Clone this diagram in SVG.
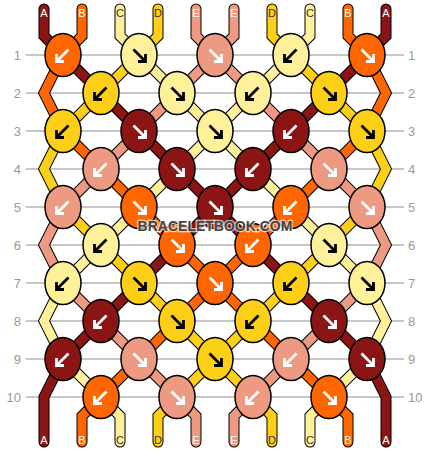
<svg xmlns="http://www.w3.org/2000/svg" xmlns:xlink="http://www.w3.org/1999/xlink" width="430" height="452" viewBox="0 0 430 452">
<style>
.grid line{stroke:#b4b4b4;stroke-width:1.3}
.rl{font-family:"Liberation Sans",Arial,sans-serif;font-size:13px;fill:#999}
.sl{font-family:"Liberation Sans",Arial,sans-serif;font-size:11px;text-anchor:middle}
.lw{fill:#fff}.ld{fill:#333}
.ol{fill:none;stroke:#000;stroke-width:11;stroke-linecap:round;stroke-linejoin:miter}
.fl{fill:none;stroke-width:9;stroke-linecap:round;stroke-linejoin:miter}
.sa{stroke:#8b1515}.sb{stroke:#ff6600}.sc{stroke:#fff09a}.sd{stroke:#fdd017}.se{stroke:#ee9a82}
.k{stroke:#000;stroke-width:1.5}
.ka{fill:#8b1515}.kb{fill:#ff6600}.kc{fill:#fff09a}.kd{fill:#fdd017}.ke{fill:#ee9a82}
.ar{fill:none;stroke-width:2.8;stroke-linecap:butt;stroke-linejoin:miter}
.w{stroke:#fff}.b{stroke:#000}
.wm{font-family:"Liberation Sans",Arial,sans-serif;font-size:14px;font-weight:bold;fill:#444;stroke:#fff;stroke-width:2.5;stroke-opacity:0.7;paint-order:stroke;text-anchor:middle}
</style>
<defs>
<path id="dr" d="M-5.5,-5.5 L5,5 M6.5,-1 V6.5 H-1"/>
<path id="dl" d="M5.5,-5.5 L-5,5 M-6.5,-1 V6.5 H1"/>
<path id="tA1" d="M44,9 L44,36 L63,55 L101,93 L139,131 L177,169 L215,207 L177,245 L139,283 L101,321 L63,359 L44,397 L44,442"/>
<path id="tA2" d="M386,9 L386,36 L367,55 L329,93 L291,131 L253,169 L215,207 L253,245 L291,283 L329,321 L367,359 L386,397 L386,442"/>
<path id="tB1" d="M82,9 L82,36 L63,55 L44,93 L63,131 L101,169 L139,207 L177,245 L215,283 L177,321 L139,359 L101,397 L82,416 L82,442"/>
<path id="tB2" d="M348,9 L348,36 L367,55 L386,93 L367,131 L329,169 L291,207 L253,245 L215,283 L253,321 L291,359 L329,397 L348,416 L348,442"/>
<path id="tC1" d="M120,9 L120,36 L139,55 L177,93 L215,131 L177,169 L139,207 L101,245 L63,283 L44,321 L63,359 L101,397 L120,416 L120,442"/>
<path id="tC2" d="M310,9 L310,36 L291,55 L253,93 L215,131 L253,169 L291,207 L329,245 L367,283 L386,321 L367,359 L329,397 L310,416 L310,442"/>
<path id="tD1" d="M158,9 L158,36 L139,55 L101,93 L63,131 L44,169 L63,207 L101,245 L139,283 L177,321 L215,359 L177,397 L158,416 L158,442"/>
<path id="tD2" d="M272,9 L272,36 L291,55 L329,93 L367,131 L386,169 L367,207 L329,245 L291,283 L253,321 L215,359 L253,397 L272,416 L272,442"/>
<path id="tE1" d="M196,9 L196,36 L215,55 L177,93 L139,131 L101,169 L63,207 L44,245 L63,283 L101,321 L139,359 L177,397 L196,416 L196,442"/>
<path id="tE2" d="M234,9 L234,36 L215,55 L253,93 L291,131 L329,169 L367,207 L386,245 L367,283 L329,321 L291,359 L253,397 L234,416 L234,442"/>
</defs>
<rect width="430" height="452" fill="#fff"/>
<g class="grid">
<line x1="26" y1="55" x2="404" y2="55"/><line x1="26" y1="93" x2="404" y2="93"/>
<line x1="26" y1="131" x2="404" y2="131"/><line x1="26" y1="169" x2="404" y2="169"/>
<line x1="26" y1="207" x2="404" y2="207"/><line x1="26" y1="245" x2="404" y2="245"/>
<line x1="26" y1="283" x2="404" y2="283"/><line x1="26" y1="321" x2="404" y2="321"/>
<line x1="26" y1="359" x2="404" y2="359"/><line x1="26" y1="397" x2="404" y2="397"/>
</g>
<g class="rl" text-anchor="end">
<text x="21" y="60">1</text><text x="21" y="98">2</text><text x="21" y="136">3</text><text x="21" y="174">4</text><text x="21" y="212">5</text>
<text x="21" y="250">6</text><text x="21" y="288">7</text><text x="21" y="326">8</text><text x="21" y="364">9</text><text x="21" y="402">10</text>
</g>
<g class="rl" text-anchor="start">
<text x="408" y="60">1</text><text x="408" y="98">2</text><text x="408" y="136">3</text><text x="408" y="174">4</text><text x="408" y="212">5</text>
<text x="408" y="250">6</text><text x="408" y="288">7</text><text x="408" y="326">8</text><text x="408" y="364">9</text><text x="408" y="402">10</text>
</g>
<g id="connectors">
<g class="ol">
<use xlink:href="#tA1"/><use xlink:href="#tA2"/><use xlink:href="#tB1"/><use xlink:href="#tB2"/><use xlink:href="#tC1"/>
<use xlink:href="#tC2"/><use xlink:href="#tD1"/><use xlink:href="#tD2"/><use xlink:href="#tE1"/><use xlink:href="#tE2"/>
</g>
<g class="fl">
<use xlink:href="#tA1" class="sa"/><use xlink:href="#tA2" class="sa"/><use xlink:href="#tB1" class="sb"/><use xlink:href="#tB2" class="sb"/>
<use xlink:href="#tC1" class="sc"/><use xlink:href="#tC2" class="sc"/><use xlink:href="#tD1" class="sd"/><use xlink:href="#tD2" class="sd"/>
<use xlink:href="#tE1" class="se"/><use xlink:href="#tE2" class="se"/>
</g>
</g>
<g id="string-labels" class="sl">
<text x="44" y="17" class="lw">A</text><text x="82" y="17" class="lw">B</text><text x="120" y="17" class="ld">C</text><text x="158" y="17" class="ld">D</text><text x="196" y="17" class="lw">E</text>
<text x="234" y="17" class="lw">E</text><text x="272" y="17" class="ld">D</text><text x="310" y="17" class="ld">C</text><text x="348" y="17" class="lw">B</text><text x="386" y="17" class="lw">A</text>
<text x="44" y="444" class="lw">A</text><text x="82" y="444" class="lw">B</text><text x="120" y="444" class="ld">C</text><text x="158" y="444" class="ld">D</text><text x="196" y="444" class="lw">E</text>
<text x="234" y="444" class="lw">E</text><text x="272" y="444" class="ld">D</text><text x="310" y="444" class="ld">C</text><text x="348" y="444" class="lw">B</text><text x="386" y="444" class="lw">A</text>
</g>
<g id="knots">
<g id="k1-1" transform="translate(63,55)"><ellipse class="k kb" rx="18" ry="21.5"/><use xlink:href="#dl" class="ar w"/></g>
<g id="k1-2" transform="translate(139,55)"><ellipse class="k kc" rx="18" ry="21.5"/><use xlink:href="#dr" class="ar b"/></g>
<g id="k1-3" transform="translate(215,55)"><ellipse class="k ke" rx="18" ry="21.5"/><use xlink:href="#dr" class="ar w"/></g>
<g id="k1-4" transform="translate(291,55)"><ellipse class="k kc" rx="18" ry="21.5"/><use xlink:href="#dl" class="ar b"/></g>
<g id="k1-5" transform="translate(367,55)"><ellipse class="k kb" rx="18" ry="21.5"/><use xlink:href="#dr" class="ar w"/></g>
<g id="k2-1" transform="translate(101,93)"><ellipse class="k kd" rx="18" ry="21.5"/><use xlink:href="#dl" class="ar b"/></g>
<g id="k2-2" transform="translate(177,93)"><ellipse class="k kc" rx="18" ry="21.5"/><use xlink:href="#dr" class="ar b"/></g>
<g id="k2-3" transform="translate(253,93)"><ellipse class="k kc" rx="18" ry="21.5"/><use xlink:href="#dl" class="ar b"/></g>
<g id="k2-4" transform="translate(329,93)"><ellipse class="k kd" rx="18" ry="21.5"/><use xlink:href="#dr" class="ar b"/></g>
<g id="k3-1" transform="translate(63,131)"><ellipse class="k kd" rx="18" ry="21.5"/><use xlink:href="#dl" class="ar b"/></g>
<g id="k3-2" transform="translate(139,131)"><ellipse class="k ka" rx="18" ry="21.5"/><use xlink:href="#dr" class="ar w"/></g>
<g id="k3-3" transform="translate(215,131)"><ellipse class="k kc" rx="18" ry="21.5"/><use xlink:href="#dr" class="ar b"/></g>
<g id="k3-4" transform="translate(291,131)"><ellipse class="k ka" rx="18" ry="21.5"/><use xlink:href="#dl" class="ar w"/></g>
<g id="k3-5" transform="translate(367,131)"><ellipse class="k kd" rx="18" ry="21.5"/><use xlink:href="#dr" class="ar b"/></g>
<g id="k4-1" transform="translate(101,169)"><ellipse class="k ke" rx="18" ry="21.5"/><use xlink:href="#dl" class="ar w"/></g>
<g id="k4-2" transform="translate(177,169)"><ellipse class="k ka" rx="18" ry="21.5"/><use xlink:href="#dr" class="ar w"/></g>
<g id="k4-3" transform="translate(253,169)"><ellipse class="k ka" rx="18" ry="21.5"/><use xlink:href="#dl" class="ar w"/></g>
<g id="k4-4" transform="translate(329,169)"><ellipse class="k ke" rx="18" ry="21.5"/><use xlink:href="#dr" class="ar w"/></g>
<g id="k5-1" transform="translate(63,207)"><ellipse class="k ke" rx="18" ry="21.5"/><use xlink:href="#dl" class="ar w"/></g>
<g id="k5-2" transform="translate(139,207)"><ellipse class="k kb" rx="18" ry="21.5"/><use xlink:href="#dr" class="ar w"/></g>
<g id="k5-3" transform="translate(215,207)"><ellipse class="k ka" rx="18" ry="21.5"/><use xlink:href="#dr" class="ar w"/></g>
<g id="k5-4" transform="translate(291,207)"><ellipse class="k kb" rx="18" ry="21.5"/><use xlink:href="#dl" class="ar w"/></g>
<g id="k5-5" transform="translate(367,207)"><ellipse class="k ke" rx="18" ry="21.5"/><use xlink:href="#dr" class="ar w"/></g>
<g id="k6-1" transform="translate(101,245)"><ellipse class="k kc" rx="18" ry="21.5"/><use xlink:href="#dl" class="ar b"/></g>
<g id="k6-2" transform="translate(177,245)"><ellipse class="k kb" rx="18" ry="21.5"/><use xlink:href="#dr" class="ar w"/></g>
<g id="k6-3" transform="translate(253,245)"><ellipse class="k kb" rx="18" ry="21.5"/><use xlink:href="#dl" class="ar w"/></g>
<g id="k6-4" transform="translate(329,245)"><ellipse class="k kc" rx="18" ry="21.5"/><use xlink:href="#dr" class="ar b"/></g>
<g id="k7-1" transform="translate(63,283)"><ellipse class="k kc" rx="18" ry="21.5"/><use xlink:href="#dl" class="ar b"/></g>
<g id="k7-2" transform="translate(139,283)"><ellipse class="k kd" rx="18" ry="21.5"/><use xlink:href="#dr" class="ar b"/></g>
<g id="k7-3" transform="translate(215,283)"><ellipse class="k kb" rx="18" ry="21.5"/><use xlink:href="#dr" class="ar w"/></g>
<g id="k7-4" transform="translate(291,283)"><ellipse class="k kd" rx="18" ry="21.5"/><use xlink:href="#dl" class="ar b"/></g>
<g id="k7-5" transform="translate(367,283)"><ellipse class="k kc" rx="18" ry="21.5"/><use xlink:href="#dr" class="ar b"/></g>
<g id="k8-1" transform="translate(101,321)"><ellipse class="k ka" rx="18" ry="21.5"/><use xlink:href="#dl" class="ar w"/></g>
<g id="k8-2" transform="translate(177,321)"><ellipse class="k kd" rx="18" ry="21.5"/><use xlink:href="#dr" class="ar b"/></g>
<g id="k8-3" transform="translate(253,321)"><ellipse class="k kd" rx="18" ry="21.5"/><use xlink:href="#dl" class="ar b"/></g>
<g id="k8-4" transform="translate(329,321)"><ellipse class="k ka" rx="18" ry="21.5"/><use xlink:href="#dr" class="ar w"/></g>
<g id="k9-1" transform="translate(63,359)"><ellipse class="k ka" rx="18" ry="21.5"/><use xlink:href="#dl" class="ar w"/></g>
<g id="k9-2" transform="translate(139,359)"><ellipse class="k ke" rx="18" ry="21.5"/><use xlink:href="#dr" class="ar w"/></g>
<g id="k9-3" transform="translate(215,359)"><ellipse class="k kd" rx="18" ry="21.5"/><use xlink:href="#dr" class="ar b"/></g>
<g id="k9-4" transform="translate(291,359)"><ellipse class="k ke" rx="18" ry="21.5"/><use xlink:href="#dl" class="ar w"/></g>
<g id="k9-5" transform="translate(367,359)"><ellipse class="k ka" rx="18" ry="21.5"/><use xlink:href="#dr" class="ar w"/></g>
<g id="k10-1" transform="translate(101,397)"><ellipse class="k kb" rx="18" ry="21.5"/><use xlink:href="#dl" class="ar w"/></g>
<g id="k10-2" transform="translate(177,397)"><ellipse class="k ke" rx="18" ry="21.5"/><use xlink:href="#dr" class="ar w"/></g>
<g id="k10-3" transform="translate(253,397)"><ellipse class="k ke" rx="18" ry="21.5"/><use xlink:href="#dl" class="ar w"/></g>
<g id="k10-4" transform="translate(329,397)"><ellipse class="k kb" rx="18" ry="21.5"/><use xlink:href="#dr" class="ar w"/></g>
</g>
<text class="wm" x="215" y="231">BRACELETBOOK.COM</text>
</svg>
